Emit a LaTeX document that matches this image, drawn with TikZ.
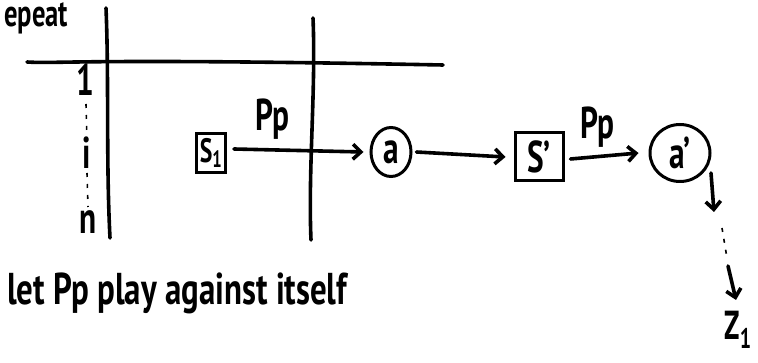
\documentclass[tikz,border=0pt]{standalone}
\usepackage{fontspec}
\usepackage{graphicx}
\setmainfont{PT Sans}
\usetikzlibrary{arrows.meta,shapes.geometric}
% tall, narrow lettering
\newcommand\tallword[1]{\scalebox{0.95}[1.35]{#1}}
\begin{document}
\begin{tikzpicture}[x=1pt,y=-1pt,
  ink/.style={line width=3.6pt,line cap=round,line join=round},
  flow/.style={ink,-{Straight Barb[length=8pt,width=15pt,line width=3.6pt]}},
  hand/.style={font=\fontsize{33}{35}\bfseries\selectfont,inner sep=1pt},
  statebox/.style={hand,draw,line width=3pt,inner sep=0pt},
  actcirc/.style={hand,draw,ellipse,line width=3pt,inner sep=0pt},
  tick/.style={line width=1.6pt,dash pattern=on 4pt off 7pt}]
\useasboundingbox (0,0) rectangle (758,363);

% title in the corner
\node[hand,font=\fontsize{28}{30}\bfseries\selectfont,anchor=west,inner sep=0pt] (title) at (4,18) {\tallword{epeat}};

% grid of two columns and one header row
\coordinate (hl) at (27,62);
\coordinate (hr) at (443,65);
\coordinate (v1t) at (106,8);
\coordinate (v1b) at (110,238);
\coordinate (v2t) at (313,18);
\coordinate (v2b) at (311,240);
\draw[ink] (hl) .. controls (60,64) and (80,58) .. (hr);
\draw[ink] (v1t) .. controls (109,80) and (106,160) .. (v1b);
\draw[ink] (v2t) .. controls (316,90) and (308,170) .. (v2b);

% episode index 1 ... i ... n
\node[hand] (one) at (85,80) {\tallword{1}};
\node[hand] (ith) at (87,153) {\tallword{i}};
\node[hand] (nth) at (88,222) {\tallword{n}};
\draw[tick] (86,104) -- (87,142);
\draw[tick] (87,173) -- (88,207);

% state -> action -> next state -> next action
\node[statebox,font=\fontsize{25}{27}\bfseries\selectfont,minimum width=29pt,minimum height=39pt] (s1) at (211,153) {\tallword{S\textsubscript{1}}};
\node[actcirc,minimum width=40pt,minimum height=49pt] (a) at (391,152) {\tallword{a}};
\node[statebox,minimum width=48pt,minimum height=48pt] (s2) at (539,157) {\tallword{S'}};
\node[actcirc,minimum width=60pt,minimum height=57pt] (a2) at (680,153) {\tallword{a'}};

\draw[flow] ([xshift=7pt,yshift=4pt]s1.east) -- node[hand,above=8pt,pos=0.3] (pp1) {\tallword{Pp}} ([xshift=-6pt]a.west);
\draw[flow] ([xshift=4pt]a.east) -- ([xshift=-8pt]s2.west);
\draw[flow] ([xshift=6pt,yshift=-2pt]s2.east) -- node[hand,above=6pt,pos=0.4] (pp2) {\tallword{Pp}} ([xshift=-10pt]a2.west);

% rollout down to the terminal outcome
\node[hand,font=\fontsize{30}{32}\bfseries\selectfont,anchor=north,inner sep=0pt] (z) at (738,311) {\tallword{Z\textsubscript{1}}};
\coordinate (d0) at (711,173);
\coordinate (d1) at (714,212);
\coordinate (d2) at (728,266);
\coordinate (d3) at (736,300);
\draw[flow] (d0) -- (d1);
\draw[tick] (722,228) -- (727,258);
\draw[flow] (d2) -- (d3);

% caption
\node[hand,anchor=west] (cap) at (6,293) {\scalebox{1.05}[1]{\tallword{let Pp play against itself}}};
\end{tikzpicture}
\end{document}
